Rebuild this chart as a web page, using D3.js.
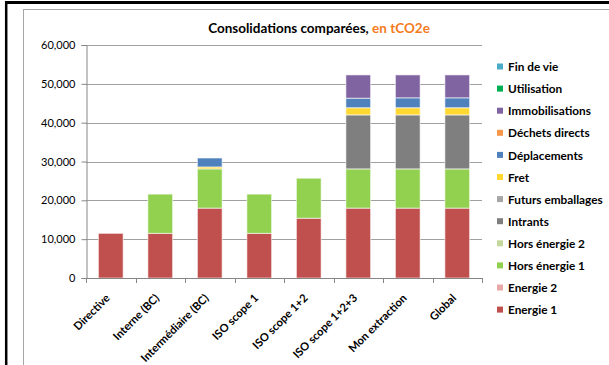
<!DOCTYPE html>
<html>
<head>
<meta charset="utf-8">
<script src="https://cdn.jsdelivr.net/npm/d3@7/dist/d3.min.js"></script>
<style>
  html, body { margin: 0; padding: 0; background: #fff; }
  svg { display: block; font-family: Lato, "Open Sans", sans-serif; }
</style>
</head>
<body>
<svg id="chart" width="609" height="365"></svg>
<script>
// Scopes compared (x axis)
const categories = ["Directive", "Interne (BC)", "Intermédiaire (BC)", "ISO scope 1",
  "ISO scope 1+2", "ISO scope 1+2+3", "Mon extraction", "Global"];

// Emission sources, bottom of stack first
const seriesNames = ["Energie 1", "Energie 2", "Hors énergie 1", "Hors énergie 2", "Intrants",
  "Futurs emballages", "Fret", "Déplacements", "Déchets directs", "Immobilisations",
  "Utilisation", "Fin de vie"];

// tCO2e per scope
const energie1        = [11500, 11500, 18000, 11500, 15400, 18000, 18000, 18000];
const energie2        = [0, 0, 0, 0, 0, 0, 0, 0];
const horsEnergie1    = [0, 10100, 10100, 10100, 10300, 10100, 10100, 10100];
const horsEnergie2    = [0, 0, 0, 0, 0, 0, 0, 0];
const intrants        = [0, 0, 0, 0, 0, 13900, 13900, 13900];
const futursEmballages= [0, 0, 0, 0, 0, 0, 0, 0];
const fret            = [0, 0, 500, 0, 0, 1850, 1850, 1850];
const deplacements    = [0, 0, 2300, 0, 0, 2450, 2550, 2550];
const dechetsDirects  = [0, 0, 0, 0, 0, 0, 0, 0];
const immobilisations = [0, 0, 0, 0, 0, 6000, 5900, 5900];
const utilisation     = [0, 0, 0, 0, 0, 0, 0, 0];
const finDeVie        = [0, 0, 0, 0, 0, 0, 0, 0];

const yTicks = [0, 10000, 20000, 30000, 40000, 50000, 60000];

const seriesValues = [energie1, energie2, horsEnergie1, horsEnergie2, intrants, futursEmballages,
  fret, deplacements, dechetsDirects, immobilisations, utilisation, finDeVie];

const colors = ["#C0504D", "#E6A9A8", "#92D050", "#C3D69B", "#7F7F7F", "#A6A6A6",
  "#FFD932", "#4F81BD", "#F79646", "#8064A2", "#00B050", "#4BACC6"];

// Build rows for d3.stack
const rows = categories.map((c, i) => {
  const r = { category: c };
  seriesNames.forEach((s, k) => { r[s] = seriesValues[k][i]; });
  return r;
});

const svg = d3.select("#chart");

// Frames
svg.append("rect").attr("x", 23.5).attr("y", 9.5).attr("width", 620).attr("height", 400)
  .attr("fill", "none").attr("stroke", "#A6A6A6").attr("stroke-width", 1);
svg.append("line").attr("x1", 5).attr("x2", 609).attr("y1", 2.5).attr("y2", 2.5)
  .attr("stroke", "#000").attr("stroke-width", 3);
svg.append("line").attr("x1", 6.2).attr("x2", 6.2).attr("y1", 1).attr("y2", 365)
  .attr("stroke", "#000").attr("stroke-width", 2.5);

const plot = { left: 86, right: 482, top: 45, bottom: 278 };

const x = d3.scaleBand().domain(categories).range([plot.left, plot.right]).paddingInner(0.5).paddingOuter(0.25);
const y = d3.scaleLinear().domain([0, 60000]).range([plot.bottom, plot.top]);

// Gridlines
svg.append("g").selectAll("line").data(yTicks.filter(d => d > 0)).join("line")
  .attr("x1", plot.left).attr("x2", plot.right)
  .attr("y1", d => Math.round(y(d)) + 0.5).attr("y2", d => Math.round(y(d)) + 0.5)
  .attr("stroke", "#A0A0A0").attr("stroke-width", 1);

// Title
const title = svg.append("text").attr("x", 319).attr("y", 33).attr("text-anchor", "middle")
  .attr("font-size", 13.5).attr("font-weight", "bold");
title.append("tspan").attr("fill", "#000").text("Consolidations comparées, ");
title.append("tspan").attr("fill", "#F47B20").text("en tCO2e");

// Stacked bars
const stack = d3.stack().keys(seriesNames);
const layers = stack(rows);

svg.append("g").selectAll("g").data(layers).join("g")
  .attr("fill", (d, i) => colors[i])
  .selectAll("rect").data(d => d.filter(p => p[1] - p[0] > 0)).join("rect")
  .attr("x", d => x(d.data.category))
  .attr("width", x.bandwidth())
  .attr("y", d => y(d[1]))
  .attr("height", d => y(d[0]) - y(d[1]))
  .attr("stroke", "#fff").attr("stroke-opacity", 0.6).attr("stroke-width", 1);

// Y axis
const yAxis = d3.axisLeft(y).tickValues(yTicks).tickSize(5).tickPadding(6)
  .tickFormat(d3.format(","));
const gy = svg.append("g").attr("transform", `translate(${plot.left + 0.5},0)`).call(yAxis);
gy.select(".domain").attr("stroke", "#868686");
gy.selectAll(".tick line").attr("stroke", "#868686");
gy.selectAll(".tick text").attr("font-size", 11).attr("fill", "#000")
  .attr("font-family", "Lato, sans-serif");

// X axis: tick marks at band boundaries
const gx = svg.append("g");
gx.append("line").attr("x1", plot.left).attr("x2", plot.right)
  .attr("y1", plot.bottom + 0.5).attr("y2", plot.bottom + 0.5).attr("stroke", "#868686");
const step = x.step();
const boundaries = d3.range(categories.length + 1).map(i => plot.left + i * step);
gx.selectAll("line.tk").data(boundaries).join("line").attr("class", "tk")
  .attr("x1", d => Math.round(d) + 0.5).attr("x2", d => Math.round(d) + 0.5)
  .attr("y1", plot.bottom).attr("y2", plot.bottom + 5).attr("stroke", "#868686");

gx.selectAll("text").data(categories).join("text")
  .attr("transform", d => `translate(${x(d) + x.bandwidth() / 2 - 3},${plot.bottom + 18}) rotate(-45)`)
  .attr("text-anchor", "end")
  .attr("dy", "0.35em")
  .attr("font-size", 11.2).attr("font-weight", "bold").attr("fill", "#000")
  .text(d => d);

// Legend, top entry is the last series
const legendItems = seriesNames.map((s, i) => ({ name: s, color: colors[i] })).reverse();
const lg = svg.append("g").selectAll("g").data(legendItems).join("g")
  .attr("transform", (d, i) => `translate(497,${67 + i * 22.1})`);
lg.append("rect").attr("x", 0).attr("y", -3.5).attr("width", 6).attr("height", 6)
  .attr("fill", d => d.color);
lg.append("text").attr("x", 11).attr("y", 0).attr("dy", "0.35em")
  .attr("font-size", 11.8).attr("font-weight", "bold").attr("fill", "#000")
  .text(d => d.name);
</script>
</body>
</html>
